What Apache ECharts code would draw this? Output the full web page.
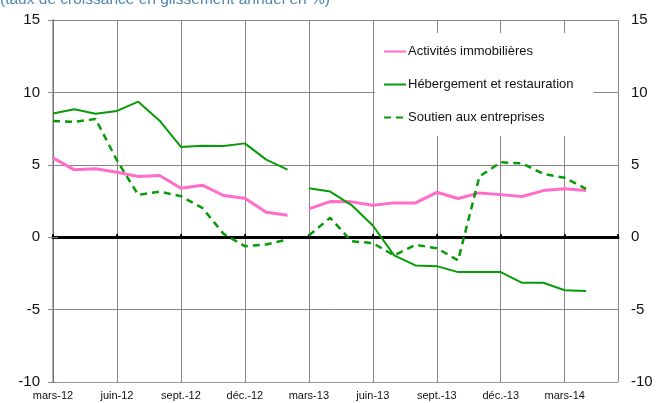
<!DOCTYPE html>
<html>
<head>
<meta charset="utf-8">
<script src="https://cdn.jsdelivr.net/npm/echarts@6/dist/echarts.min.js"></script>
<style>
  html, body { margin: 0; padding: 0; background: #fff; }
  #chart { width: 659px; height: 403px; }
</style>
</head>
<body>
<div id="chart"></div>
<script>
// monthly data, mars-12 .. avril-14
const months = ['mars-12','avr.-12','mai-12','juin-12','juil.-12','août-12','sept.-12','oct.-12','nov.-12','déc.-12','janv.-13','févr.-13',
  'mars-13','avr.-13','mai-13','juin-13','juil.-13','août-13','sept.-13','oct.-13','nov.-13','déc.-13','janv.-14','févr.-14','mars-14','avr.-14'];
const tickLabels = ['mars-12','juin-12','sept.-12','déc.-12','mars-13','juin-13','sept.-13','déc.-13','mars-14'];

const immobilier = [5.48,4.65,4.72,4.48,4.19,4.26,3.38,3.59,2.88,2.69,1.72,1.52,
  1.96,2.46,2.44,2.21,2.37,2.37,3.10,2.67,3.06,2.94,2.81,3.22,3.34,3.22];
const hebergement = [8.55,8.83,8.53,8.72,9.36,8.05,6.23,6.32,6.30,6.48,5.36,4.67,
  3.38,3.15,2.22,0.81,-1.26,-1.95,-2.0,-2.41,-2.41,-2.41,-3.15,-3.15,-3.66,-3.72];
const soutien = [8.03,7.96,8.17,5.3,2.92,3.15,2.83,2.03,0.23,-0.62,-0.5,-0.16,
  0.12,1.34,-0.28,-0.41,-1.26,-0.53,-0.76,-1.6,4.19,5.17,5.1,4.37,4.1,3.34];

const breakAfter = 11; // series are not joined between févr.-13 and mars-13

function toPoints(arr) {
  const pts = [];
  arr.forEach((v, i) => {
    pts.push([i, v]);
    if (i === breakAfter) pts.push([i + 0.5, null]);
  });
  return pts;
}

const font = 'Liberation Sans, Arial, sans-serif';
const chart = echarts.init(document.getElementById('chart'), null, { renderer: 'canvas' });

const yBase = {
  type: 'value', min: -10, max: 15, interval: 5,
  axisTick: { show: true, length: 5, lineStyle: { color: '#888' } },
  axisLabel: { color: '#111', fontSize: 15, fontFamily: font, margin: 13 }
};

chart.setOption({
  animation: false,
  graphic: [{
    type: 'text', left: 0, top: -8,
    style: { text: '(taux de croissance en glissement annuel en %)', fill: '#4f86b5', font: '15.5px ' + font }
  }],
  grid: { left: 53, right: 41, top: 20, bottom: 21, show: false },
  legend: {
    orient: 'vertical', left: 375, top: 33,
    backgroundColor: '#fff', padding: [12, 20, 12, 8],
    itemWidth: 22, itemHeight: 14, itemGap: 20,
    itemStyle: { opacity: 0 },
    textStyle: { fontSize: 13, fontFamily: font, color: '#111', padding: [0, 0, 0, -3] },
    data: ['Activités immobilières', 'Hébergement et restauration', 'Soutien aux entreprises']
  },
  xAxis: [{
    type: 'value', min: 0, max: 26.5, interval: 3,
    axisLine: { onZero: false, lineStyle: { color: '#999' } },
    axisTick: { show: false },
    splitLine: { show: true, lineStyle: { color: '#888', width: 1 } },
    axisLabel: {
      fontSize: 11, fontFamily: font, color: '#111', margin: 8, showMaxLabel: false,
      formatter: v => tickLabels[Math.round(v / 3)] || ''
    }
  }, {
    type: 'value', min: 0, max: 26.5, interval: 3,
    axisLine: { onZero: true, lineStyle: { color: '#000', width: 3 } },
    axisTick: { show: true, length: 3, lineStyle: { color: '#000', width: 2 } },
    axisLabel: { show: false },
    splitLine: { show: false }
  }],
  yAxis: [
    Object.assign({}, yBase, {
      position: 'left',
      axisLine: { show: true, lineStyle: { color: '#000' } },
      splitLine: { show: true, lineStyle: { color: '#888', width: 1 } }
    }),
    Object.assign({}, yBase, {
      position: 'right',
      axisLine: { show: true, lineStyle: { color: '#999', width: 1.5 } },
      splitLine: { show: false }
    })
  ],
  series: [{
    name: 'Activités immobilières', type: 'line', symbol: 'none', connectNulls: false,
    lineStyle: { color: '#ff6ccc', width: 3 }, itemStyle: { color: '#ff6ccc' },
    data: toPoints(immobilier), z: 3
  }, {
    name: 'Hébergement et restauration', type: 'line', symbol: 'none', connectNulls: false,
    lineStyle: { color: '#079c07', width: 2 }, itemStyle: { color: '#079c07' },
    data: toPoints(hebergement), z: 3
  }, {
    name: 'Soutien aux entreprises', type: 'line', symbol: 'none', connectNulls: false,
    lineStyle: { color: '#079c07', width: 2.5, type: [7, 5] }, itemStyle: { color: '#079c07' },
    data: toPoints(soutien), z: 3
  }]
});
</script>
</body>
</html>
